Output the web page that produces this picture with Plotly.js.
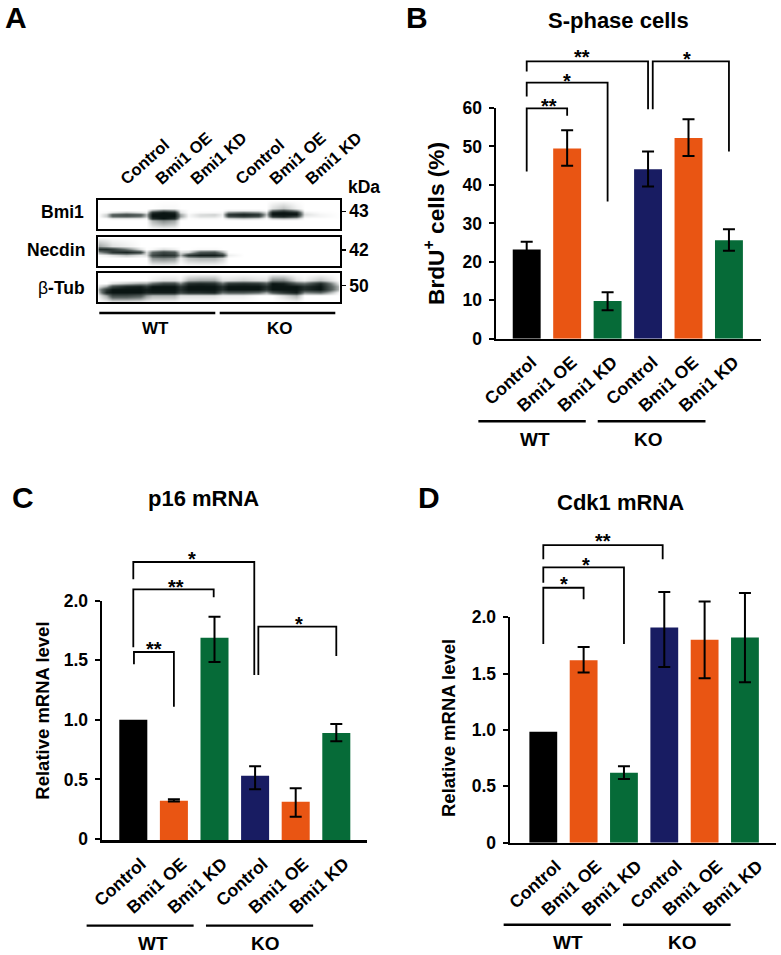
<!DOCTYPE html>
<html><head><meta charset="utf-8">
<script src="https://cdn.plot.ly/plotly-3.0.1.min.js"></script>
<style>html,body{margin:0;padding:0;background:#fff}</style></head>
<body><div id="chart" style="width:781px;height:955px"></div>
<script>
// ---------- data ----------
const conditions = ['Control','Bmi1 OE','Bmi1 KD','Control','Bmi1 OE','Bmi1 KD'];
const barColors = ['#000000','#e95513','#066b38','#181c62','#e95513','#066b38'];

const sPhase      = [23.2, 49.5, 9.8, 44.1, 52.2, 25.6];
const sPhaseUp    = [2.0, 4.7, 2.3, 4.6, 4.9, 2.9];
const sPhaseDown  = [2.0, 4.5, 2.4, 4.5, 4.7, 2.7];
const p16         = [1.0, 0.32, 1.69, 0.53, 0.313, 0.89];
const p16Up       = [0, 0.014, 0.175, 0.08, 0.112, 0.075];
const p16Down     = [0, 0.006, 0.205, 0.113, 0.126, 0.07];
const cdk1        = [0.985, 1.62, 0.62, 1.91, 1.80, 1.82];
const cdk1Up      = [0, 0.117, 0.058, 0.315, 0.34, 0.396];
const cdk1Down    = [0, 0.11, 0.055, 0.35, 0.34, 0.397];

// significance brackets: [x left, x right, y left end, y top, y right end]
const bracketsB = [[0,1,43.5,59.9,58.0],[0,2,63,66.6,35.7],[0,3,69.5,72.1,59.7],[3.116,5,59.7,72.1,48.7]];
const starsB    = [[0.54,61.7,'**'],[0.99,68.3,'*'],[1.37,74.65,'**'],[3.96,74,'*']];
const bracketsC = [[0.016,1,1.466,1.569,1.11],[0,1.98,1.608,2.095,2.028],[0,2.98,2.179,2.324,1.376],[3.08,5,1.376,1.782,1.536]];
const starsC    = [[0.51,1.634,'**'],[1.04,2.159,'**'],[1.445,2.392,'*'],[4.09,1.846,'*']];
const bracketsD = [[0,1,1.763,2.263,2.16],[0,2,2.308,2.444,1.763],[0,2.96,2.515,2.642,2.515]];
const starsD    = [[0.51,2.337,'*'],[1.05,2.509,'*'],[1.47,2.725,'**']];

// western blot membrane densities (0 = clear, 1 = black)
const blotX = [0,8,14,28,42,48,54,65,76,82,90,102,116,124,130,145,160,168,174,185,198,206,222,241];
const bmi1Y = [0,8,10,12,14,16,18,20,29];
const bmi1Z = [
 [0,0,0,0,0,0,0,0,0,0,0,0,0,0,0,0,0,0,0,0,0,0,0,0],
 [0,0,0,0,0,0,0,.02,.02,0,0,0,0,0,0,0,0,0,.1,.2,.05,0,0,0],
 [0,0,0,0,0,0,.3,.5,.4,.05,0,0,0,0,.05,.05,.05,0,.5,.7,.4,0,0,0],
 [0,.02,.1,.2,.1,.05,.85,1,.9,.1,0,.02,.02,.02,.4,.5,.4,.1,.95,1,.9,.05,.01,0],
 [0,.15,.6,.7,.6,.25,1,1,1,.3,.02,.12,.15,.05,.85,.95,.85,.2,1,1,1,.1,.03,0],
 [0,.15,.5,.55,.45,.2,1,1,1,.3,.02,.1,.1,.03,.65,.75,.65,.1,.8,.9,.7,.05,.03,0],
 [0,0,.05,.05,.05,.02,.85,1,.85,.1,0,.02,.02,0,.1,.15,.1,0,.15,.2,.15,0,0,0],
 [0,0,0,0,0,0,.25,.4,.3,0,0,0,0,0,0,0,0,0,0,0,0,0,0,0],
 [0,0,0,0,0,0,0,0,0,0,0,0,0,0,0,0,0,0,0,0,0,0,0,0]];
const necdinY = [0,9,12,15,18,21,29];
const necdinZ = [
 [0,0,0,0,0,0,0,0,0,0,0,0,0,0,0,0,0,0,0,0,0,0,0,0],
 [.3,.2,.1,.05,0,0,0,0,0,0,0,0,0,0,0,0,0,0,0,0,0,0,0,0],
 [.85,.85,.75,.45,.1,0,.02,.1,.05,0,0,.02,.02,0,0,0,0,0,0,0,0,0,0,0],
 [.35,.55,.8,.9,.7,.1,.5,.7,.6,.1,.15,.6,.65,.3,0,0,0,0,0,0,0,0,0,0],
 [.02,.05,.1,.2,.1,.1,.7,.85,.8,.25,.8,.95,.95,.8,.05,0,0,0,0,0,0,0,0,0],
 [0,0,0,0,0,0,.35,.4,.35,.05,.2,.25,.25,.15,0,0,0,0,0,0,0,0,0,0],
 [0,0,0,0,0,0,0,0,0,0,0,0,0,0,0,0,0,0,0,0,0,0,0,0]];
const tubY = [0,7,10,13,16,19,22,29];
const tubZ = [
 [0,0,0,0,0,0,0,0,0,0,0,0,0,0,0,0,0,0,0,0,0,0,0,0],
 [0,0,0,0,0,0,.05,.1,.1,.05,.25,.3,.3,.1,.1,.15,.1,.1,.4,.4,.1,.05,.2,0],
 [0,0,.1,.2,.3,.3,.5,.7,.7,.4,.85,.9,.85,.5,.8,.85,.8,.6,1,.95,.6,.5,.9,.05],
 [.1,.3,.7,.9,.95,.8,1,1,1,.8,1,1,1,.85,1,1,1,.85,1,1,1,.85,1,.2],
 [.3,.8,1,1,1,.95,1,1,1,.85,1,1,1,.85,1,1,1,.8,1,1,1,.85,1,.2],
 [.2,.9,1,1,1,.9,.95,.95,.95,.7,.85,.85,.9,.5,.6,.6,.5,.3,.6,.8,.95,.4,.5,0],
 [.05,.3,.7,.7,.6,.35,.25,.25,.25,.1,.1,.1,.1,.05,.05,.05,0,0,0,.1,.25,0,0,0],
 [0,0,0,0,0,0,0,0,0,0,0,0,0,0,0,0,0,0,0,0,0,0,0,0]];
const laneTicks = [23,58,93,138,172,208];
const kDaMarks = [['43',11],['42',13],['50',12.4]];

// ---------- helpers ----------
const W = 781, H = 955;
const FAM = '"Liberation Sans", Arial, Helvetica, sans-serif';
const bold = s => ({family:FAM, size:s, color:'#000', weight:700});
const fx = px => px / W, fy = py => 1 - py / H;
const traces = [], annotations = [], layout = {
  width:W, height:H, margin:{l:0,r:0,t:0,b:0}, paper_bgcolor:'#fff', plot_bgcolor:'rgba(0,0,0,0)',
  showlegend:false, hovermode:false, annotations
};
let axN = 1;
const paperText = (text,x,y,size,extra) => annotations.push(Object.assign({text,xref:'paper',yref:'paper',x:fx(x),y:fy(y),
  xanchor:'center',yanchor:'middle',showarrow:false,font:bold(size)},extra||{}));

function chart(o) {
  const n = axN++, m = axN++;
  const xk = n===1?'xaxis':'xaxis'+n, yk = n===1?'yaxis':'yaxis'+n, xa = n===1?'x':'x'+n, ya = n===1?'y':'y'+n;
  const xo = 'x'+m, yo = 'y'+m;
  const xv = p => (p - o.x0) / o.dx, yv = p => (o.y0 - p) / o.ppu;
  layout[xk] = {domain:[fx(o.left),fx(o.right)], range:[xv(o.left),xv(o.right)], anchor:ya, showgrid:false, zeroline:false,
    showline:true, linewidth:2.5, linecolor:'#000', ticks:'', tickmode:'array', tickvals:[0,1,2,3,4,5], ticktext:conditions,
    tickangle:-42, tickfont:bold(17.5), ticklabelstandoff:o.xstand, ticklabelshift:o.xshift};
  layout[yk] = {domain:[fy(o.bottom),fy(o.top)], range:[yv(o.bottom),o.ymax], anchor:xa, showgrid:false, zeroline:false,
    showline:true, linewidth:2.5, linecolor:'#000', ticks:'outside', ticklen:5, tickwidth:2, tickcolor:'#000',
    tickmode:'array', tickvals:o.tickvals, ticktext:o.ticktext, tickfont:bold(17.5), ticklabelstandoff:3};
  const pb = o.panel;
  layout['xaxis'+m] = {domain:[fx(pb[0]),fx(pb[1])], range:[xv(pb[0]),xv(pb[1])], anchor:yo, visible:false, fixedrange:true};
  layout['yaxis'+m] = {domain:[fy(pb[3]),fy(pb[2])], range:[yv(pb[3]),yv(pb[2])], anchor:xo, visible:false, fixedrange:true};
  const floor = Math.min(yv(o.bottom),0);
  const idx = [0,1,2,3,4,5];
  traces.push({type:'bar', xaxis:xa, yaxis:ya, x:idx, y:o.values.map(v=>v-floor),
    base:floor, width:0.69, marker:{color:barColors, line:{width:0}}});
  // error bars only for the groups that have a spread (normalised controls have none)
  const withErr = idx.filter(i=>o.up[i]>0);
  traces.push({type:'scatter', mode:'markers', xaxis:xo, yaxis:yo, x:withErr, y:withErr.map(i=>o.values[i]), marker:{size:1,opacity:0},
    error_y:{type:'data',symmetric:false,array:withErr.map(i=>o.up[i]),arrayminus:withErr.map(i=>o.down[i]),color:'#000',thickness:2,width:6}});
  o.brackets.forEach(b=>traces.push({type:'scatter',mode:'lines',xaxis:xo,yaxis:yo,
    x:[b[0],b[0],b[1],b[1]], y:[b[2],b[3],b[3],b[4]], line:{color:'#000',width:1.8,shape:'linear'}}));
  o.groups.forEach(g=>traces.push({type:'scatter',mode:'lines',xaxis:xo,yaxis:yo,
    x:[g[0],g[1]], y:[o.groupY,o.groupY], line:{color:'#000',width:2.4}}));
  o.stars.forEach(s=>annotations.push({text:s[2],xref:xo,yref:yo,x:s[0],y:s[1],yshift:-5,showarrow:false,font:bold(20)}));
  o.groupText.forEach(t=>annotations.push({text:t[2],xref:xo,yref:yo,x:t[0],y:t[1],showarrow:false,font:bold(19)}));
}

// ---------- panel A ----------
function blotStrip(top, y, z, extra) {
  const n = axN++;
  const xa='x'+n, ya='y'+n;
  layout['xaxis'+n] = Object.assign({domain:[fx(98.3),fx(339.7)], range:[0,241.4], anchor:ya, showgrid:false, zeroline:false,
    showline:true, mirror:true, linewidth:2, linecolor:'#000', ticks:'', showticklabels:false}, extra||{});
  layout['yaxis'+n] = {domain:[fy(top+29),fy(top)], range:[29,0], anchor:xa, side:'right', showgrid:false, zeroline:false,
    showline:true, mirror:true, linewidth:2, linecolor:'#000', ticks:'outside', ticklen:4, tickwidth:1.5, tickcolor:'#000',
    tickmode:'array', tickvals:[kDaMarks[blotStrip.i][1]], ticktext:[kDaMarks[blotStrip.i][0]], tickfont:bold(17.5), ticklabelstandoff:0};
  blotStrip.i++;
  traces.push({type:'heatmap', xaxis:xa, yaxis:ya, x:blotX, y, z, zmin:0, zmax:1, zsmooth:'best', showscale:false, hoverinfo:'skip',
    colorscale:[[0,'#ffffff'],[0.5,'#5f6866'],[1,'#0a1513']]});
}
blotStrip.i = 0;

// ---------- build ----------
chart({left:496,right:761,top:108,bottom:338.8,ymax:60,x0:526.7,dx:40.45,y0:338.8,ppu:3.847,xstand:4,xshift:5,
  values:sPhase,up:sPhaseUp,down:sPhaseDown,tickvals:[0,10,20,30,40,50,60],ticktext:['0','10','20','30','40','50','60'],
  panel:[460,781,30,460],brackets:bracketsB,stars:starsB,groups:[[-1.195,1.46],[1.756,4.42]],groupY:-21.45,
  groupText:[[0.206,-26.3,'WT'],[3.02,-26.3,'KO']]});
chart({left:102,right:367.3,top:600.7,bottom:840.4,ymax:2,x0:133.3,dx:40.6,y0:839,ppu:119.2,xstand:4,xshift:8,
  values:p16,up:p16Up,down:p16Down,tickvals:[0,0.5,1,1.5,2],ticktext:['0','0.5','1.0','1.5','2.0'],
  panel:[60,400,520,955],brackets:bracketsC,stars:starsC,groups:[[-1.15,1.486],[1.79,4.43]],groupY:-0.727,
  groupText:[[0.476,-0.875,'WT'],[3.26,-0.875,'KO']]});
chart({left:510,right:776,top:617.3,bottom:842.7,ymax:2,x0:543.3,dx:40.33,y0:842.7,ppu:112.67,xstand:4,xshift:13,
  values:cdk1,up:cdk1Up,down:cdk1Down,tickvals:[0,0.5,1,1.5,2],ticktext:['0','0.5','1.0','1.5','2.0'],
  panel:[470,781,520,955],brackets:bracketsD,stars:starsD,groups:[[-0.983,1.678],[1.975,4.645]],groupY:-0.728,
  groupText:[[0.62,-0.887,'WT'],[3.44,-0.887,'KO']]});

blotStrip(200.3, bmi1Y, bmi1Z, {side:'top', showticklabels:true, tickmode:'array', tickvals:laneTicks, ticktext:conditions,
  tickangle:-42, tickfont:bold(16.5), ticklabelstandoff:4});
blotStrip(237, necdinY, necdinZ);
blotStrip(273.3, tubY, tubZ);

// group lines under the blot, in membrane units
{
  const m = axN++;
  layout['xaxis'+m] = {domain:[fx(0),fx(400)], range:[-98.3,301.7], anchor:'y'+m, visible:false};
  layout['yaxis'+m] = {domain:[fy(345),fy(170)], range:[144.7,-30.3], anchor:'x'+m, visible:false};
  [[1,117],[121.4,237]].forEach(g=>traces.push({type:'scatter',mode:'lines',xaxis:'x'+m,yaxis:'y'+m,
    x:g,y:[112.7,112.7],line:{color:'#000',width:2.4}}));
}

paperText('A',15.7,17.7,30); paperText('B',416.7,18,30); paperText('C',22.7,497.7,30); paperText('D',429,498,30);
paperText('S-phase cells',618,20,22); paperText('p16 mRNA',203.7,498.3,22); paperText('Cdk1 mRNA',620.7,502,22);
paperText('BrdU<sup>+</sup> cells (%)',434,224,22.7,{textangle:-90});
paperText('Relative mRNA level',41.7,711,18.5,{textangle:-90});
paperText('Relative mRNA level',448.3,727.7,18.5,{textangle:-90});
paperText('Bmi1',86,212,17.5,{xanchor:'right'});
paperText('Necdin',86.7,250,17.5,{xanchor:'right'});
paperText('<span style="font-weight:400">β</span>-Tub',86.7,288,17.5,{xanchor:'right'});
paperText('kDa',345.5,187,17.5,{xanchor:'left'});
paperText('WT',155,329,17); paperText('KO',280,329,17);

Plotly.newPlot('chart', traces, layout, {displayModeBar:false, staticPlot:true});
</script></body></html>
